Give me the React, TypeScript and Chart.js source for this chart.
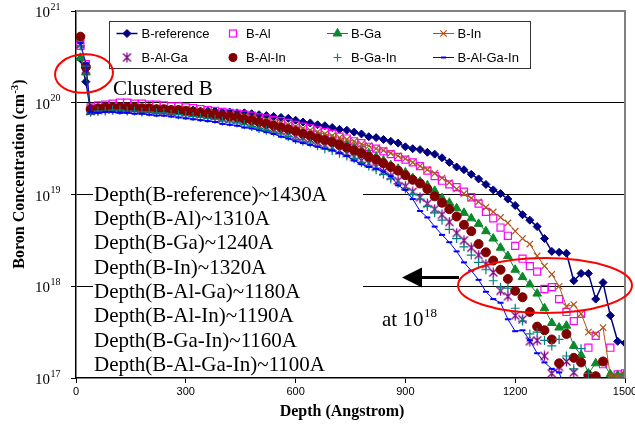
import React, { useEffect, useRef } from 'react';
import { Chart, registerables } from 'chart.js';

Chart.register(...registerables);

// ---------------- data (concentrations stored as log10 of cm^-3) ----------------
const depthA: number[] = [
  12, 27, 40, 60, 80, 100, 120, 140, 160, 180, 200, 220, 240, 260, 280, 300, 320, 340, 360, 380,
  400, 420, 440, 460, 480, 500, 520, 540, 560, 580, 600, 620, 640, 660, 680, 700, 720, 740, 760, 780,
  800, 820, 840, 860, 880, 900, 920, 940, 960, 980, 1000, 1020, 1040, 1060, 1080, 1100, 1120, 1140, 1160, 1180,
  1200, 1220, 1240, 1260, 1280, 1300, 1320, 1340, 1360, 1380, 1400, 1420, 1440, 1460, 1480, 1500,
];

const bReference: (number | null)[] = [
  20.48, 20.23,
  19.91, 19.92, 19.93, 19.94, 19.94, 19.93, 19.94, 19.94, 19.93, 19.93,
  19.93, 19.92, 19.93, 19.92, 19.92, 19.91, 19.91, 19.91, 19.90, 19.90,
  19.89, 19.89, 19.88, 19.87, 19.86, 19.85, 19.84, 19.83, 19.81, 19.79,
  19.78, 19.76, 19.75, 19.73, 19.71, 19.70, 19.68, 19.66, 19.63, 19.62,
  19.60, 19.58, 19.56, 19.52, 19.50, 19.49, 19.46, 19.44, 19.40, 19.35,
  19.30, 19.27, 19.22, 19.17, 19.11, 19.05, 19.01, 18.95, 18.88, 18.78,
  18.72, 18.65, 18.52, 18.38, 18.37, 18.36, 18.06, 18.14, 18.14, 17.86,
  18.04, 17.68, 17.40, 17.38,
];

const bAl: (number | null)[] = [
  20.62, 20.42,
  19.95, 19.97, 19.98, 19.99, 20.00, 20.00, 19.99, 19.99, 19.98, 19.98,
  19.97, 19.96, 19.96, 19.95, 19.94, 19.93, 19.92, 19.91, 19.90, 19.89,
  19.88, 19.87, 19.86, 19.84, 19.83, 19.81, 19.80, 19.78, 19.76, 19.74,
  19.72, 19.70, 19.68, 19.66, 19.63, 19.61, 19.58, 19.56, 19.52, 19.50,
  19.47, 19.44, 19.41, 19.38, 19.35, 19.31, 19.26, 19.20, 19.15, 19.11,
  19.08, 19.03, 18.97, 18.90, 18.81, 18.74, 18.64, 18.55, 18.44, 18.30,
  18.22, 18.16, 17.97, 17.99, 17.86, 17.72, 17.62, 17.70, 17.33, 17.46,
  17.15, 17.33, 17.04, 17.05,
];

const bGa: (number | null)[] = [
  20.49, 20.33,
  19.90, 19.92, 19.93, 19.94, 19.94, 19.94, 19.94, 19.93, 19.93, 19.93,
  19.92, 19.92, 19.91, 19.91, 19.90, 19.89, 19.88, 19.87, 19.86, 19.85,
  19.84, 19.83, 19.81, 19.79, 19.78, 19.76, 19.74, 19.72, 19.70, 19.68,
  19.66, 19.64, 19.62, 19.60, 19.57, 19.54, 19.51, 19.48, 19.45, 19.41,
  19.37, 19.32, 19.28, 19.24, 19.18, 19.14, 19.10, 19.04, 18.96, 18.91,
  18.85, 18.80, 18.74, 18.68, 18.60, 18.52, 18.42, 18.33, 18.18, 18.10,
  18.02, 17.92, 17.76, 17.60, 17.55, 17.57, 17.35, 17.25, 17.05, 17.16,
  17.17, 17.04, 17.03, 17.05,
];

const bIn: (number | null)[] = [
  20.63, 20.41,
  19.93, 19.94, 19.95, 19.95, 19.96, 19.96, 19.95, 19.95, 19.95, 19.94,
  19.94, 19.93, 19.93, 19.93, 19.92, 19.91, 19.90, 19.89, 19.88, 19.87,
  19.86, 19.85, 19.84, 19.82, 19.81, 19.79, 19.78, 19.76, 19.74, 19.72,
  19.70, 19.68, 19.66, 19.64, 19.62, 19.60, 19.58, 19.55, 19.53, 19.50,
  19.48, 19.45, 19.42, 19.39, 19.35, 19.31, 19.27, 19.23, 19.18, 19.13,
  19.06, 19.01, 18.96, 18.92, 18.86, 18.81, 18.75, 18.69, 18.60, 18.52,
  18.46, 18.33, 18.22, 18.13, 18.00, 17.78, 17.80, 17.70, 17.50, 17.48,
  17.55, 17.02, 17.02, 17.03,
];

const bAlGa: (number | null)[] = [
  20.64, 20.36,
  19.91, 19.92, 19.93, 19.93, 19.93, 19.93, 19.93, 19.92, 19.92, 19.91,
  19.91, 19.90, 19.90, 19.89, 19.88, 19.87, 19.86, 19.85, 19.83, 19.82,
  19.81, 19.79, 19.77, 19.75, 19.73, 19.71, 19.69, 19.67, 19.64, 19.62,
  19.60, 19.57, 19.54, 19.51, 19.48, 19.45, 19.41, 19.37, 19.34, 19.30,
  19.25, 19.20, 19.15, 19.09, 19.03, 18.97, 18.90, 18.84, 18.78, 18.70,
  18.58, 18.50, 18.42, 18.34, 18.24, 18.15, 17.95, 17.89, 17.68, 17.64,
  17.40, 17.41, 17.24, 17.05, 17.12, 17.18, 17.06, null, null, null,
  null, null, null, null,
];

const bAlIn: (number | null)[] = [
  20.72, 20.39,
  19.93, 19.94, 19.95, 19.95, 19.95, 19.95, 19.95, 19.94, 19.94, 19.93,
  19.93, 19.92, 19.92, 19.91, 19.90, 19.89, 19.88, 19.87, 19.86, 19.85,
  19.84, 19.82, 19.81, 19.79, 19.77, 19.75, 19.73, 19.71, 19.69, 19.66,
  19.64, 19.61, 19.59, 19.57, 19.54, 19.51, 19.48, 19.45, 19.41, 19.38,
  19.34, 19.30, 19.26, 19.21, 19.16, 19.12, 19.06, 18.98, 18.91, 18.84,
  18.76, 18.67, 18.60, 18.46, 18.37, 18.28, 18.18, 18.08, 17.95, 17.88,
  17.72, 17.56, 17.52, 17.42, 17.16, 17.48, 17.22, 17.17, 17.03, 17.02,
  17.18, null, null, null,
];

const bGaIn: (number | null)[] = [
  20.62, 20.40,
  19.90, 19.91, 19.91, 19.92, 19.92, 19.91, 19.91, 19.90, 19.90, 19.89,
  19.89, 19.88, 19.87, 19.86, 19.85, 19.84, 19.83, 19.82, 19.80, 19.79,
  19.78, 19.76, 19.74, 19.72, 19.70, 19.68, 19.66, 19.63, 19.60, 19.58,
  19.56, 19.53, 19.50, 19.48, 19.45, 19.42, 19.39, 19.35, 19.31, 19.27,
  19.22, 19.17, 19.12, 19.06, 19.00, 18.95, 18.87, 18.80, 18.72, 18.62,
  18.52, 18.43, 18.34, 18.26, 18.18, 18.06, 17.99, 17.98, 17.76, 17.62,
  17.48, 17.50, 17.41, 17.35, 17.42, 17.24, 17.10, 17.32, 17.05, null,
  null, null, null, null,
];

const bAlGaIn: (number | null)[] = [
  20.65, 20.43,
  19.90, 19.89, 19.90, 19.90, 19.89, 19.89, 19.88, 19.88, 19.87, 19.86,
  19.86, 19.85, 19.84, 19.83, 19.82, 19.81, 19.80, 19.79, 19.77, 19.76,
  19.75, 19.73, 19.72, 19.70, 19.68, 19.66, 19.63, 19.61, 19.58, 19.56,
  19.54, 19.52, 19.50, 19.48, 19.45, 19.42, 19.37, 19.33, 19.30, 19.28,
  19.25, 19.20, 19.10, 19.05, 18.95, 18.82, 18.75, 18.65, 18.56, 18.48,
  18.38, 18.26, 18.17, 18.07, 17.94, 17.86, 17.82, 17.64, 17.51, 17.52,
  17.41, 17.27, 17.17, 17.10, 17.06, 16.85, null, null, null, null,
  null, null, null, null,
];

const seriesNames: string[] = [
  'B-reference', 'B-Al', 'B-Ga', 'B-In', 'B-Al-Ga', 'B-Al-In', 'B-Ga-In', 'B-Al-Ga-In',
];
const seriesValues = [bReference, bAl, bGa, bIn, bAlGa, bAlIn, bGaIn, bAlGaIn];

const yTickExponents: number[] = [17, 18, 19, 20, 21];
const xTickValues: number[] = [0, 300, 600, 900, 1200, 1500];
const xTitle = 'Depth (Angstrom)';
const yTitleMain = 'Boron Concentration (cm';
const yTitleSup = '-3';
const yTitleEnd = ')';
const clusterLabel = 'Clustered B';
const arrowLabel = 'at 10';
const arrowLabelSup = '18';
const depthNotes: string[] = [
  'Depth(B-reference)~1430A',
  'Depth(B-Al)~1310A',
  'Depth(B-Ga)~1240A',
  'Depth(B-In)~1320A',
  'Depth(B-Al-Ga)~1180A',
  'Depth(B-Al-In)~1190A',
  'Depth(B-Ga-In)~1160A',
  'Depth(B-Al-Ga-In)~1100A',
];

// ---------------- styles ----------------
type Marker = 'diamond' | 'square' | 'triangle' | 'x' | 'star' | 'circle' | 'plus' | 'dash';
const seriesStyles: { color: string; marker: Marker; line: boolean; lineWidth: number }[] = [
  { color: '#000080', marker: 'diamond', line: true, lineWidth: 1.5 },
  { color: '#FF00FF', marker: 'square', line: false, lineWidth: 1 },
  { color: '#0A8A2A', marker: 'triangle', line: true, lineWidth: 1 },
  { color: '#B0541E', marker: 'x', line: true, lineWidth: 1 },
  { color: '#800080', marker: 'star', line: false, lineWidth: 1 },
  { color: '#800000', marker: 'circle', line: false, lineWidth: 1 },
  { color: '#008080', marker: 'plus', line: false, lineWidth: 1 },
  { color: '#0000FF', marker: 'dash', line: true, lineWidth: 1 },
];

const SERIF = '"Liberation Serif", "Times New Roman", serif';
const SANS = '"Liberation Sans", Arial, sans-serif';

function makeStar(color: string): HTMLCanvasElement {
  const c = document.createElement('canvas');
  c.width = 11;
  c.height = 11;
  const g = c.getContext('2d') as CanvasRenderingContext2D;
  g.strokeStyle = color;
  g.lineWidth = 1.3;
  g.beginPath();
  g.moveTo(1.5, 1.5); g.lineTo(9.5, 9.5);
  g.moveTo(9.5, 1.5); g.lineTo(1.5, 9.5);
  g.moveTo(5.5, 0.5); g.lineTo(5.5, 10.5);
  g.stroke();
  return c;
}

function pointOpts(marker: Marker, color: string, star: HTMLCanvasElement) {
  switch (marker) {
    case 'diamond': return { pointStyle: 'rectRot', pointRadius: 4, pointBackgroundColor: color, pointBorderWidth: 1 };
    case 'square': return { pointStyle: 'rect', pointRadius: 5, pointBackgroundColor: 'rgba(0,0,0,0)', pointBorderWidth: 1.2 };
    case 'triangle': return { pointStyle: 'triangle', pointRadius: 5, pointBackgroundColor: color, pointBorderWidth: 1 };
    case 'x': return { pointStyle: 'crossRot', pointRadius: 4.5, pointBackgroundColor: color, pointBorderWidth: 1.2 };
    case 'star': return { pointStyle: star, pointRadius: 5, pointBackgroundColor: color, pointBorderWidth: 1 };
    case 'circle': return { pointStyle: 'circle', pointRadius: 4.5, pointBackgroundColor: color, pointBorderWidth: 1 };
    case 'plus': return { pointStyle: 'cross', pointRadius: 4.5, pointBackgroundColor: color, pointBorderWidth: 1.2 };
    default: return { pointStyle: 'line', pointRadius: 3, pointBackgroundColor: color, pointBorderWidth: 2 };
  }
}

function drawMarker(ctx: CanvasRenderingContext2D, m: Marker, x: number, y: number, color: string, star: HTMLCanvasElement) {
  ctx.save();
  ctx.strokeStyle = color;
  ctx.fillStyle = color;
  ctx.lineWidth = 1;
  ctx.beginPath();
  if (m === 'diamond') {
    ctx.moveTo(x - 4, y); ctx.lineTo(x, y - 4); ctx.lineTo(x + 4, y); ctx.lineTo(x, y + 4); ctx.closePath();
    ctx.fill(); ctx.stroke();
  } else if (m === 'square') {
    ctx.lineWidth = 1.2;
    ctx.strokeRect(x - 3.5, y - 3.5, 7, 7);
  } else if (m === 'triangle') {
    ctx.moveTo(x, y - 5); ctx.lineTo(x + 4.33, y + 2.5); ctx.lineTo(x - 4.33, y + 2.5); ctx.closePath();
    ctx.fill(); ctx.stroke();
  } else if (m === 'x') {
    ctx.lineWidth = 1.2;
    ctx.moveTo(x - 3.2, y - 3.2); ctx.lineTo(x + 3.2, y + 3.2);
    ctx.moveTo(x + 3.2, y - 3.2); ctx.lineTo(x - 3.2, y + 3.2);
    ctx.stroke();
  } else if (m === 'star') {
    ctx.drawImage(star, x - 5.5, y - 5.5);
  } else if (m === 'circle') {
    ctx.arc(x, y, 4.5, 0, Math.PI * 2);
    ctx.fill();
  } else if (m === 'plus') {
    ctx.lineWidth = 1.2;
    ctx.moveTo(x - 4, y); ctx.lineTo(x + 4, y);
    ctx.moveTo(x, y - 4); ctx.lineTo(x, y + 4);
    ctx.stroke();
  } else {
    ctx.lineWidth = 2;
    ctx.moveTo(x - 2.5, y); ctx.lineTo(x + 2.5, y);
    ctx.stroke();
  }
  ctx.restore();
}

export default function App() {
  const canvasRef = useRef<HTMLCanvasElement | null>(null);

  useEffect(() => {
    document.body.style.margin = '0';
    document.body.style.overflow = 'hidden';
    const canvas = canvasRef.current;
    if (!canvas) return;
    const star = makeStar('#800080');

    const datasets = seriesNames.map((name, i) => {
      const st = seriesStyles[i];
      return {
        label: name,
        data: depthA.map((d, j) => {
          const v = seriesValues[i][j];
          return { x: d, y: v == null ? null : Math.pow(10, v) };
        }),
        showLine: st.line,
        borderColor: st.color,
        backgroundColor: st.color,
        borderWidth: st.lineWidth,
        pointBorderColor: st.color,
        ...pointOpts(st.marker, st.color, star),
        order: 7 - i,
        spanGaps: false,
        tension: 0,
      };
    });

    const overlay = {
      id: 'overlay',
      afterDraw(chart: any) {
        const ctx: CanvasRenderingContext2D = chart.ctx;
        const a = chart.chartArea;
        const xs = chart.scales.x;
        const ys = chart.scales.y;
        ctx.save();

        // plot frame (top / right)
        ctx.strokeStyle = '#808080';
        ctx.lineWidth = 2;
        ctx.beginPath();
        ctx.moveTo(a.left, a.top);
        ctx.lineTo(a.right, a.top);
        ctx.lineTo(a.right, a.bottom);
        ctx.stroke();

        // y tick labels 10^n
        ctx.fillStyle = '#000';
        ctx.textBaseline = 'alphabetic';
        yTickExponents.forEach((e) => {
          const y = ys.getPixelForValue(Math.pow(10, e));
          ctx.font = `15px ${SERIF}`;
          ctx.textAlign = 'right';
          ctx.fillText('10', 50, y + 6);
          ctx.font = `10px ${SERIF}`;
          ctx.textAlign = 'left';
          ctx.fillText(String(e), 50.5, y - 1.5);
        });

        // x tick labels
        ctx.font = `11px ${SANS}`;
        ctx.textAlign = 'center';
        ctx.textBaseline = 'middle';
        xTickValues.forEach((v) => {
          ctx.fillText(String(v), xs.getPixelForValue(v), a.bottom + 14);
        });

        // axis titles
        ctx.font = `bold 16px ${SERIF}`;
        ctx.textBaseline = 'alphabetic';
        ctx.textAlign = 'center';
        ctx.fillText(xTitle, 342, 416);

        ctx.save();
        ctx.translate(19, 174);
        ctx.rotate(-Math.PI / 2);
        ctx.textAlign = 'left';
        ctx.font = `bold 16px ${SERIF}`;
        const w1 = ctx.measureText(yTitleMain).width;
        const w3 = ctx.measureText(yTitleEnd).width;
        ctx.font = `bold 11px ${SERIF}`;
        const w2 = ctx.measureText(yTitleSup).width;
        let px = -(w1 + w2 + w3) / 2;
        ctx.font = `bold 16px ${SERIF}`;
        ctx.fillText(yTitleMain, px, 5);
        px += w1;
        ctx.font = `bold 11px ${SERIF}`;
        ctx.fillText(yTitleSup, px, -1);
        px += w2;
        ctx.font = `bold 16px ${SERIF}`;
        ctx.fillText(yTitleEnd, px, 5);
        ctx.restore();

        // legend box
        ctx.fillStyle = '#fff';
        ctx.fillRect(109.5, 21.5, 421, 47);
        ctx.strokeStyle = '#333';
        ctx.lineWidth = 1;
        ctx.strokeRect(109.5, 21.5, 421, 47);
        const colX = [127, 233, 337.5, 443.5];
        const textX = [141.5, 246, 351, 457.5];
        const rowY = [33.5, 57.5];
        seriesNames.forEach((name, i) => {
          const st = seriesStyles[i];
          const cx = colX[i % 4];
          const cy = rowY[i < 4 ? 0 : 1];
          if (st.line) {
            ctx.save();
            ctx.strokeStyle = st.color;
            ctx.lineWidth = st.lineWidth;
            ctx.beginPath();
            ctx.moveTo(cx - 10.5, cy);
            ctx.lineTo(cx + 10.5, cy);
            ctx.stroke();
            ctx.restore();
          }
          drawMarker(ctx, st.marker, cx, cy, st.color, star);
          ctx.fillStyle = '#000';
          ctx.font = `13px ${SANS}`;
          ctx.textAlign = 'left';
          ctx.textBaseline = 'middle';
          ctx.fillText(name, textX[i % 4], cy + 0.5);
        });

        // depth notes text box
        ctx.fillStyle = '#fff';
        ctx.fillRect(93, 182, 270, 191);
        ctx.fillStyle = '#000';
        ctx.font = `21px ${SERIF}`;
        ctx.textAlign = 'left';
        ctx.textBaseline = 'alphabetic';
        depthNotes.forEach((t, i) => {
          ctx.fillText(t, 94, 200.7 + i * 24.3);
        });

        // clustered B
        ctx.fillText(clusterLabel, 113, 95);

        // red ellipses
        ctx.strokeStyle = '#FF0000';
        ctx.lineWidth = 2;
        ctx.beginPath();
        ctx.ellipse(84, 73.5, 29, 19.3, -0.06, 0, Math.PI * 2);
        ctx.stroke();
        ctx.beginPath();
        ctx.ellipse(545, 285.5, 87, 27.5, 0, 0, Math.PI * 2);
        ctx.stroke();

        // arrow
        ctx.strokeStyle = '#000';
        ctx.fillStyle = '#000';
        ctx.lineWidth = 3;
        ctx.beginPath();
        ctx.moveTo(459, 277.5);
        ctx.lineTo(418, 277.5);
        ctx.stroke();
        ctx.beginPath();
        ctx.moveTo(402, 277.5);
        ctx.lineTo(422, 267.5);
        ctx.lineTo(422, 287.5);
        ctx.closePath();
        ctx.fill();

        // at 10^18
        ctx.font = `21px ${SERIF}`;
        ctx.fillText(arrowLabel, 382, 326);
        const wl = ctx.measureText(arrowLabel).width;
        ctx.font = `13px ${SERIF}`;
        ctx.fillText(arrowLabelSup, 382 + wl + 0.5, 317);

        ctx.restore();
      },
    };

    const chart = new Chart(canvas, {
      type: 'scatter',
      data: { datasets: datasets as any },
      options: {
        animation: false,
        responsive: false,
        devicePixelRatio: 1,
        events: [],
        layout: { padding: { left: 0, right: 10, top: 11, bottom: 0 } },
        plugins: { legend: { display: false }, tooltip: { enabled: false }, title: { display: false } },
        scales: {
          x: {
            type: 'linear',
            min: 0,
            max: 1500,
            afterFit: (s: any) => { s.height = 55; },
            afterBuildTicks: (s: any) => { s.ticks = xTickValues.map((v) => ({ value: v })); },
            ticks: { display: false },
            grid: { display: true, drawOnChartArea: false, drawTicks: true, tickLength: 5, color: '#000', tickColor: '#000' },
            border: { display: true, color: '#000', width: 1.5 },
          },
          y: {
            type: 'logarithmic',
            min: 1e17,
            max: 1e21,
            afterFit: (s: any) => { s.width = 76; },
            afterBuildTicks: (s: any) => { s.ticks = yTickExponents.map((e) => ({ value: Math.pow(10, e) })); },
            ticks: { display: false },
            grid: {
              display: true,
              drawOnChartArea: true,
              drawTicks: true,
              tickLength: 5,
              lineWidth: 1,
              tickColor: '#000',
              color: (c: any) => {
                const v = c.tick ? c.tick.value : 0;
                return v === 1e17 || v === 1e21 ? 'rgba(0,0,0,0)' : '#000';
              },
            },
            border: { display: true, color: '#000', width: 1.5 },
          },
        },
      },
      plugins: [overlay],
    } as any);

    return () => chart.destroy();
  }, []);

  return (
    <div style={{ width: 635, height: 433, position: 'relative', background: '#fff' }}>
      <canvas ref={canvasRef} width={635} height={433} style={{ display: 'block' }} />
    </div>
  );
}
